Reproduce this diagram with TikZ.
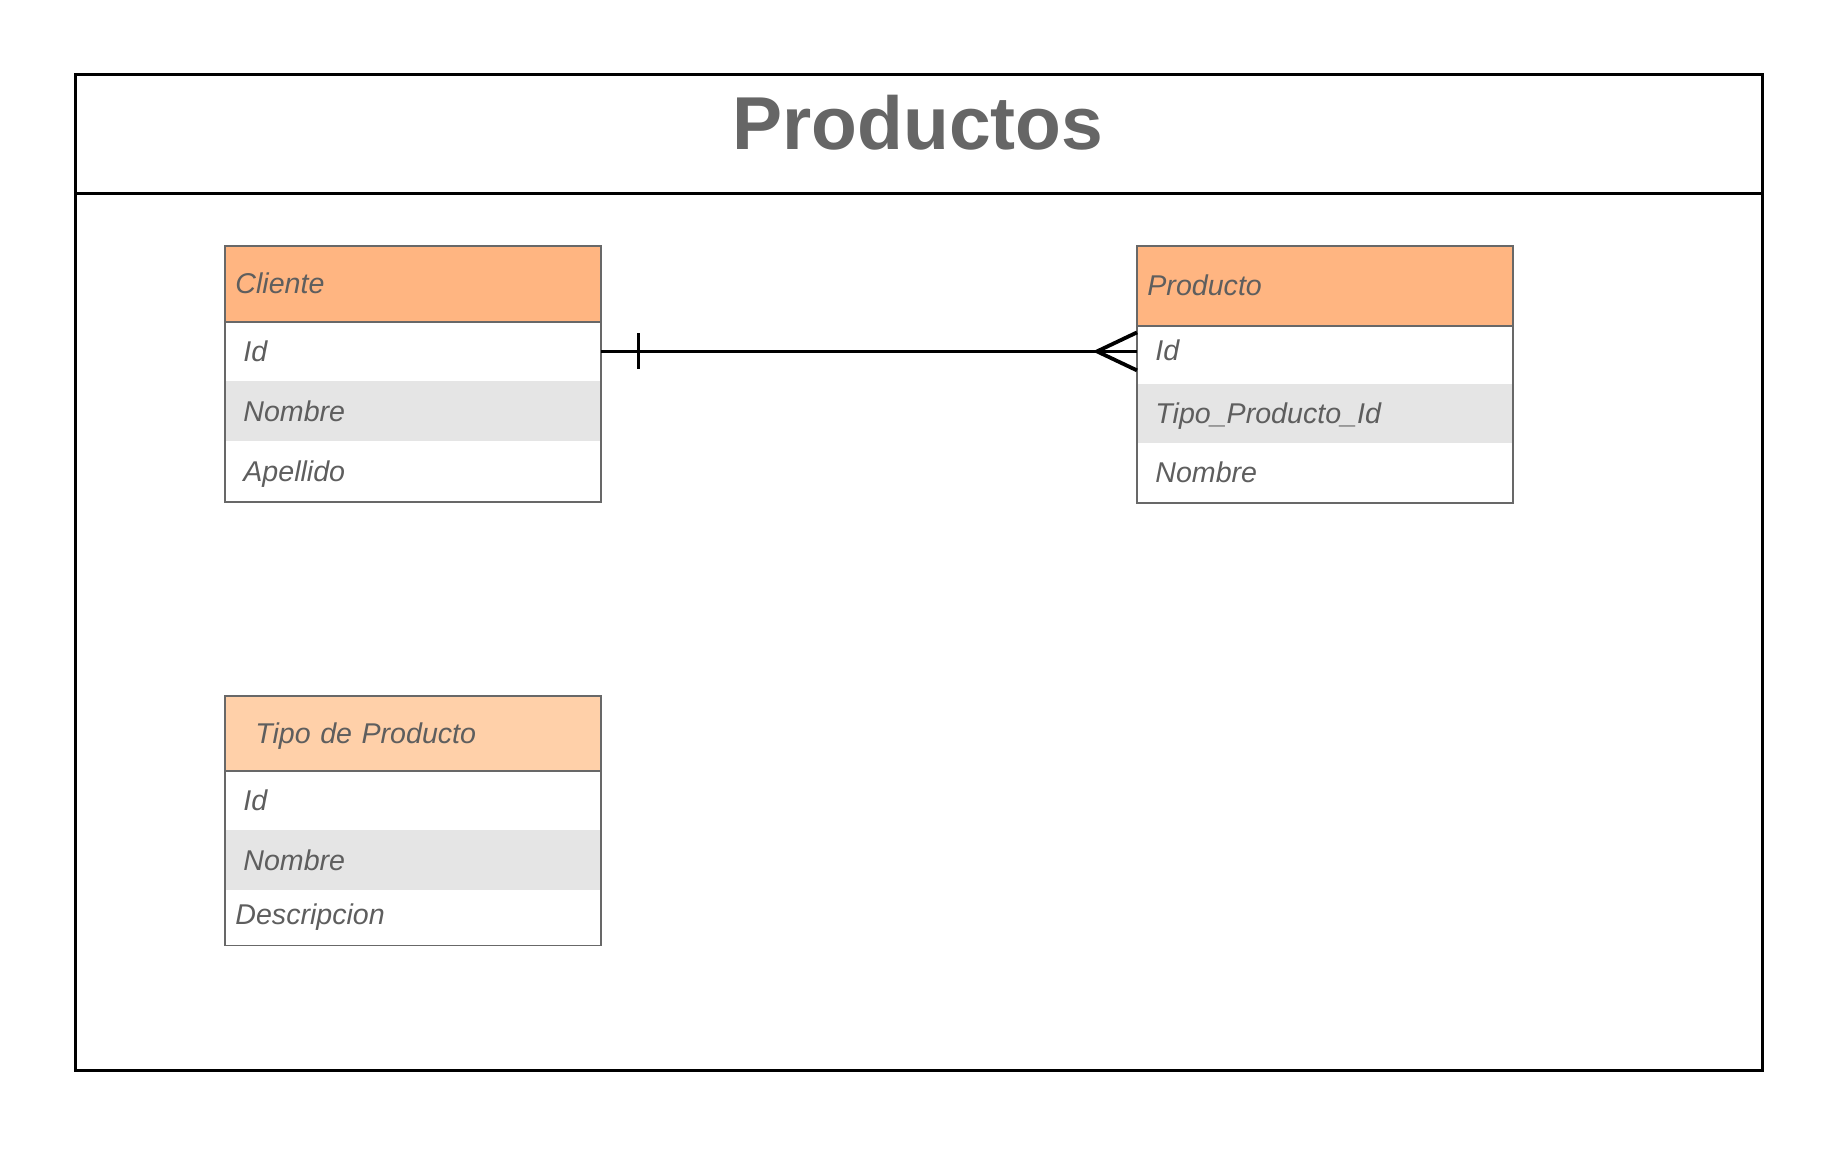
\documentclass[tikz,border=0pt]{standalone}
\usepackage{fontspec}
\setmainfont{Liberation Sans}
\usepackage{xcolor}

\definecolor{entity}{HTML}{FFB581}
\definecolor{entitylight}{HTML}{FFD0A9}
\definecolor{rowshade}{HTML}{E5E5E5}
\definecolor{labelgray}{HTML}{5E5E5E}
\definecolor{titlegray}{HTML}{666666}
\definecolor{edgegray}{HTML}{686868}

\tikzset{
  every table/.style={rectangle, inner sep=0pt, anchor=north west, text=labelgray,
    align=left, text height=10pt, text depth=0pt, font=\itshape\fontsize{14.3}{16}\selectfont},
  header/.style={every table, fill=entity, minimum height=37.5pt, text width=177.5pt, inner xsep=5pt},
  field/.style={every table, minimum height=30pt, text width=169.5pt, inner xsep=9pt},
  field 2/.style={fill=rowshade},
  producto field 1/.style={text depth=4pt},
  outline/.style={draw=edgegray, line width=0.8pt},
  relation/.style={line width=1.9pt},
  frame/.style={line width=1.5pt}
}

\begin{document}
\begin{tikzpicture}[x=0.5pt, y=-0.5pt]

\useasboundingbox (0,0) rectangle (1830,1172);

\draw [frame] (75,75) rectangle (1762,1070);
\draw [frame] (75,193) -- (1762,193);

\node [font=\bfseries\fontsize{37.5}{40}\selectfont, text=titlegray, anchor=base] (title) at (918,149) {Productos};

% Cliente
\node [header] (cliente) at (225,246) {Cliente};
\foreach \f [count=\y] in {Id,Nombre,Apellido}
  \node [field, field \y/.try] (cliente-\y) at (225,261+60*\y) {\f};
\draw [outline] (cliente.north west) rectangle (cliente-3.south east);
\draw [outline] (cliente.south west) -- (cliente.south east);

% Producto
\node [header, minimum height=39.5pt] (producto) at (1137,246) {Producto};
\foreach \f [count=\y] in {Id,Tipo\_Producto\_Id,Nombre}
  \node [field, field \y/.try, producto field \y/.try, minimum height=29.5pt] (producto-\y) at (1137,266+59*\y) {\f};
\draw [outline] (producto.north west) rectangle (producto-3.south east);
\draw [outline] (producto.south west) -- (producto.south east);

% Tipo de Producto
\node [header, fill=entitylight, minimum height=37pt, text width=157.5pt, inner xsep=15pt] (tipo) at (225,696) {Tipo de Producto};
\foreach \f [count=\y] in {Id,Nombre}
  \node [field, field \y/.try] (tipo-\y) at (225,710+60*\y) {\f};
\node [field, minimum height=27pt, text width=177.5pt, inner xsep=5pt, text depth=4pt] (tipo-3) at (tipo-2.south west) {Descripcion};
\draw [outline] (tipo.north west) rectangle (tipo-3.south east);
\draw [outline] (tipo.south west) -- (tipo.south east);

% relacion cliente - producto
\coordinate (many) at (cliente-1.east -| producto-1.west);
\draw [relation] (cliente-1.east) -- (many);
\draw [relation, line width=1.5pt] ([xshift=19pt, yshift=9pt]cliente-1.east) -- ++(0pt,-18pt);
\draw [relation] ([yshift=9.5pt]many) -- ++(-20pt,-9.5pt) -- ++(20pt,-9.5pt);

\end{tikzpicture}
\end{document}
